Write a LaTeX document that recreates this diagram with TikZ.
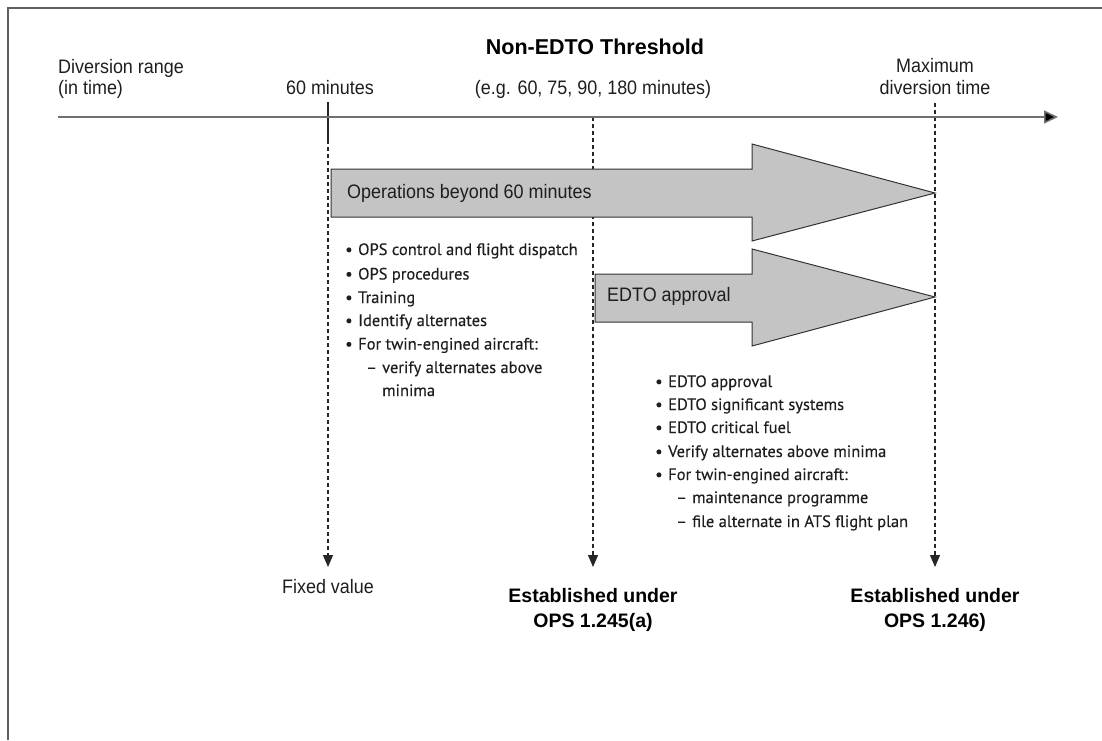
\documentclass[tikz,border=0pt]{standalone}
\usepackage{fontspec}
\setmainfont{Liberation Sans}
\newfontfamily\narrowf[FakeStretch=0.92]{Liberation Sans}
\newfontfamily\boldf{Liberation Sans}
\newfontfamily\bulletf[FakeBold=0.3]{PT Sans}
\usetikzlibrary{arrows.meta}
\definecolor{txt}{HTML}{1E1E1E}
\definecolor{boxfill}{HTML}{C4C4C4}
\definecolor{axisgray}{HTML}{707070}
\definecolor{framegray}{HTML}{606060}
\begin{document}
\begin{tikzpicture}[x=1pt,y=-1pt,
  lbl/.style={inner sep=0pt,text=txt,font=\narrowf\fontsize{19.5}{22}\selectfont},
  boldlbl/.style={inner sep=0pt,text=black,font=\boldf\bfseries\fontsize{19.5}{22}\selectfont},
  titlelbl/.style={inner sep=0pt,text=black,font=\boldf\bfseries\fontsize{21.5}{24}\selectfont},
  bul/.style={inner sep=0pt,text=txt,anchor=base west,font=\bulletf\fontsize{16.5}{19}\selectfont},
  axisline/.style={draw=axisgray,line width=1.6pt,-{Triangle[width=13pt,length=14pt,fill=black]}},
  dashline/.style={draw=black!85,line width=1.1pt,dash pattern=on 4pt off 3pt},
  droparrow/.style={dashline,-{Triangle[width=10pt,length=12pt,fill=black!85]}},
  bigarrow/.style={draw=black!80,line width=1pt,fill=boxfill,line join=miter}]
\useasboundingbox (0,0) rectangle (1102,740);
% frame
\draw[framegray,line width=2.2pt] (8,740) -- (8,8) -- (1102,8);
% coordinates
\coordinate (ax0) at (58,117);
\coordinate (ax1) at (1058,117);
\coordinate (s60a) at (328,102);
\coordinate (s60b) at (328,140);
\coordinate (s60c) at (328,567);
\coordinate (thA) at (593,117);
\coordinate (thB) at (593,567);
\coordinate (mxA) at (935,103);
\coordinate (mxB) at (935,567);
% dashed drop lines
\draw[line width=1.3pt,black!85] (s60a) -- (s60b);
\draw[droparrow] (s60b) -- (s60c);
\draw[droparrow] (thA) -- (thB);
\draw[droparrow] (mxA) -- (mxB);
% axis
\draw[axisline] (ax0) -- (ax1);
% big arrows
\draw[bigarrow] (331,169) -- (752,169) -- (752,144) -- (935,193) -- (752,241) -- (752,217) -- (331,217) -- cycle;
\draw[bigarrow] (595,274) -- (752,274) -- (752,249) -- (935,297) -- (752,346) -- (752,322) -- (595,322) -- cycle;
% header labels
\node[lbl,anchor=base west] (div1) at (58,73.5) {Diversion range};
\node[lbl,anchor=base west] (div2) at (58,94.5) {(in time)};
\node[lbl,anchor=base] (sixty) at (330,94.5) {60 minutes};
\node[titlelbl,anchor=base] (title) at (595,54) {Non-EDTO Threshold};
\node[lbl,anchor=base] (eg) at (593,94.5) {(e.g. 60, 75, 90, 180 minutes)};
\node[lbl,anchor=base] (max1) at (935,72.5) {Maximum};
\node[lbl,anchor=base] (max2) at (935,94.5) {diversion time};
% arrow labels
\node[lbl,anchor=base west] (ops) at (347,198.5) {Operations beyond 60 minutes};
\node[lbl,anchor=base west] (edto) at (607,301.5) {EDTO approval};
% bullet list 1
\node[bul] (a1) at (345,255) {\makebox[13pt][l]{•}OPS control and flight dispatch};
\node[bul] (a2) at (345,279.5) {\makebox[13pt][l]{•}OPS procedures};
\node[bul] (a3) at (345,303) {\makebox[13pt][l]{•}Training};
\node[bul] (a4) at (345,326) {\makebox[13pt][l]{•}Identify alternates};
\node[bul] (a5) at (345,349.5) {\makebox[13pt][l]{•}For twin-engined aircraft:};
\node[bul] (a6) at (366,373) {\makebox[16pt][l]{–}verify alternates above};
\node[bul] (a7) at (382,396) {minima};
% bullet list 2
\node[bul] (b1) at (655,387) {\makebox[13pt][l]{•}EDTO approval};
\node[bul] (b2) at (655,410) {\makebox[13pt][l]{•}EDTO significant systems};
\node[bul] (b3) at (655,433) {\makebox[13pt][l]{•}EDTO critical fuel};
\node[bul] (b4) at (655,457) {\makebox[13pt][l]{•}Verify alternates above minima};
\node[bul] (b5) at (655,480) {\makebox[13pt][l]{•}For twin-engined aircraft:};
\node[bul] (b6) at (676,503) {\makebox[16pt][l]{–}maintenance programme};
\node[bul] (b7) at (676,527) {\makebox[16pt][l]{–}file alternate in ATS flight plan};
% bottom labels
\node[lbl,anchor=base] (fixed) at (328,593.5) {Fixed value};
\node[boldlbl,anchor=base] (est1a) at (593,602) {Established under};
\node[boldlbl,anchor=base] (est1b) at (593,627) {OPS 1.245(a)};
\node[boldlbl,anchor=base] (est2a) at (935,602) {Established under};
\node[boldlbl,anchor=base] (est2b) at (935,627) {OPS 1.246)};
\end{tikzpicture}
\end{document}
